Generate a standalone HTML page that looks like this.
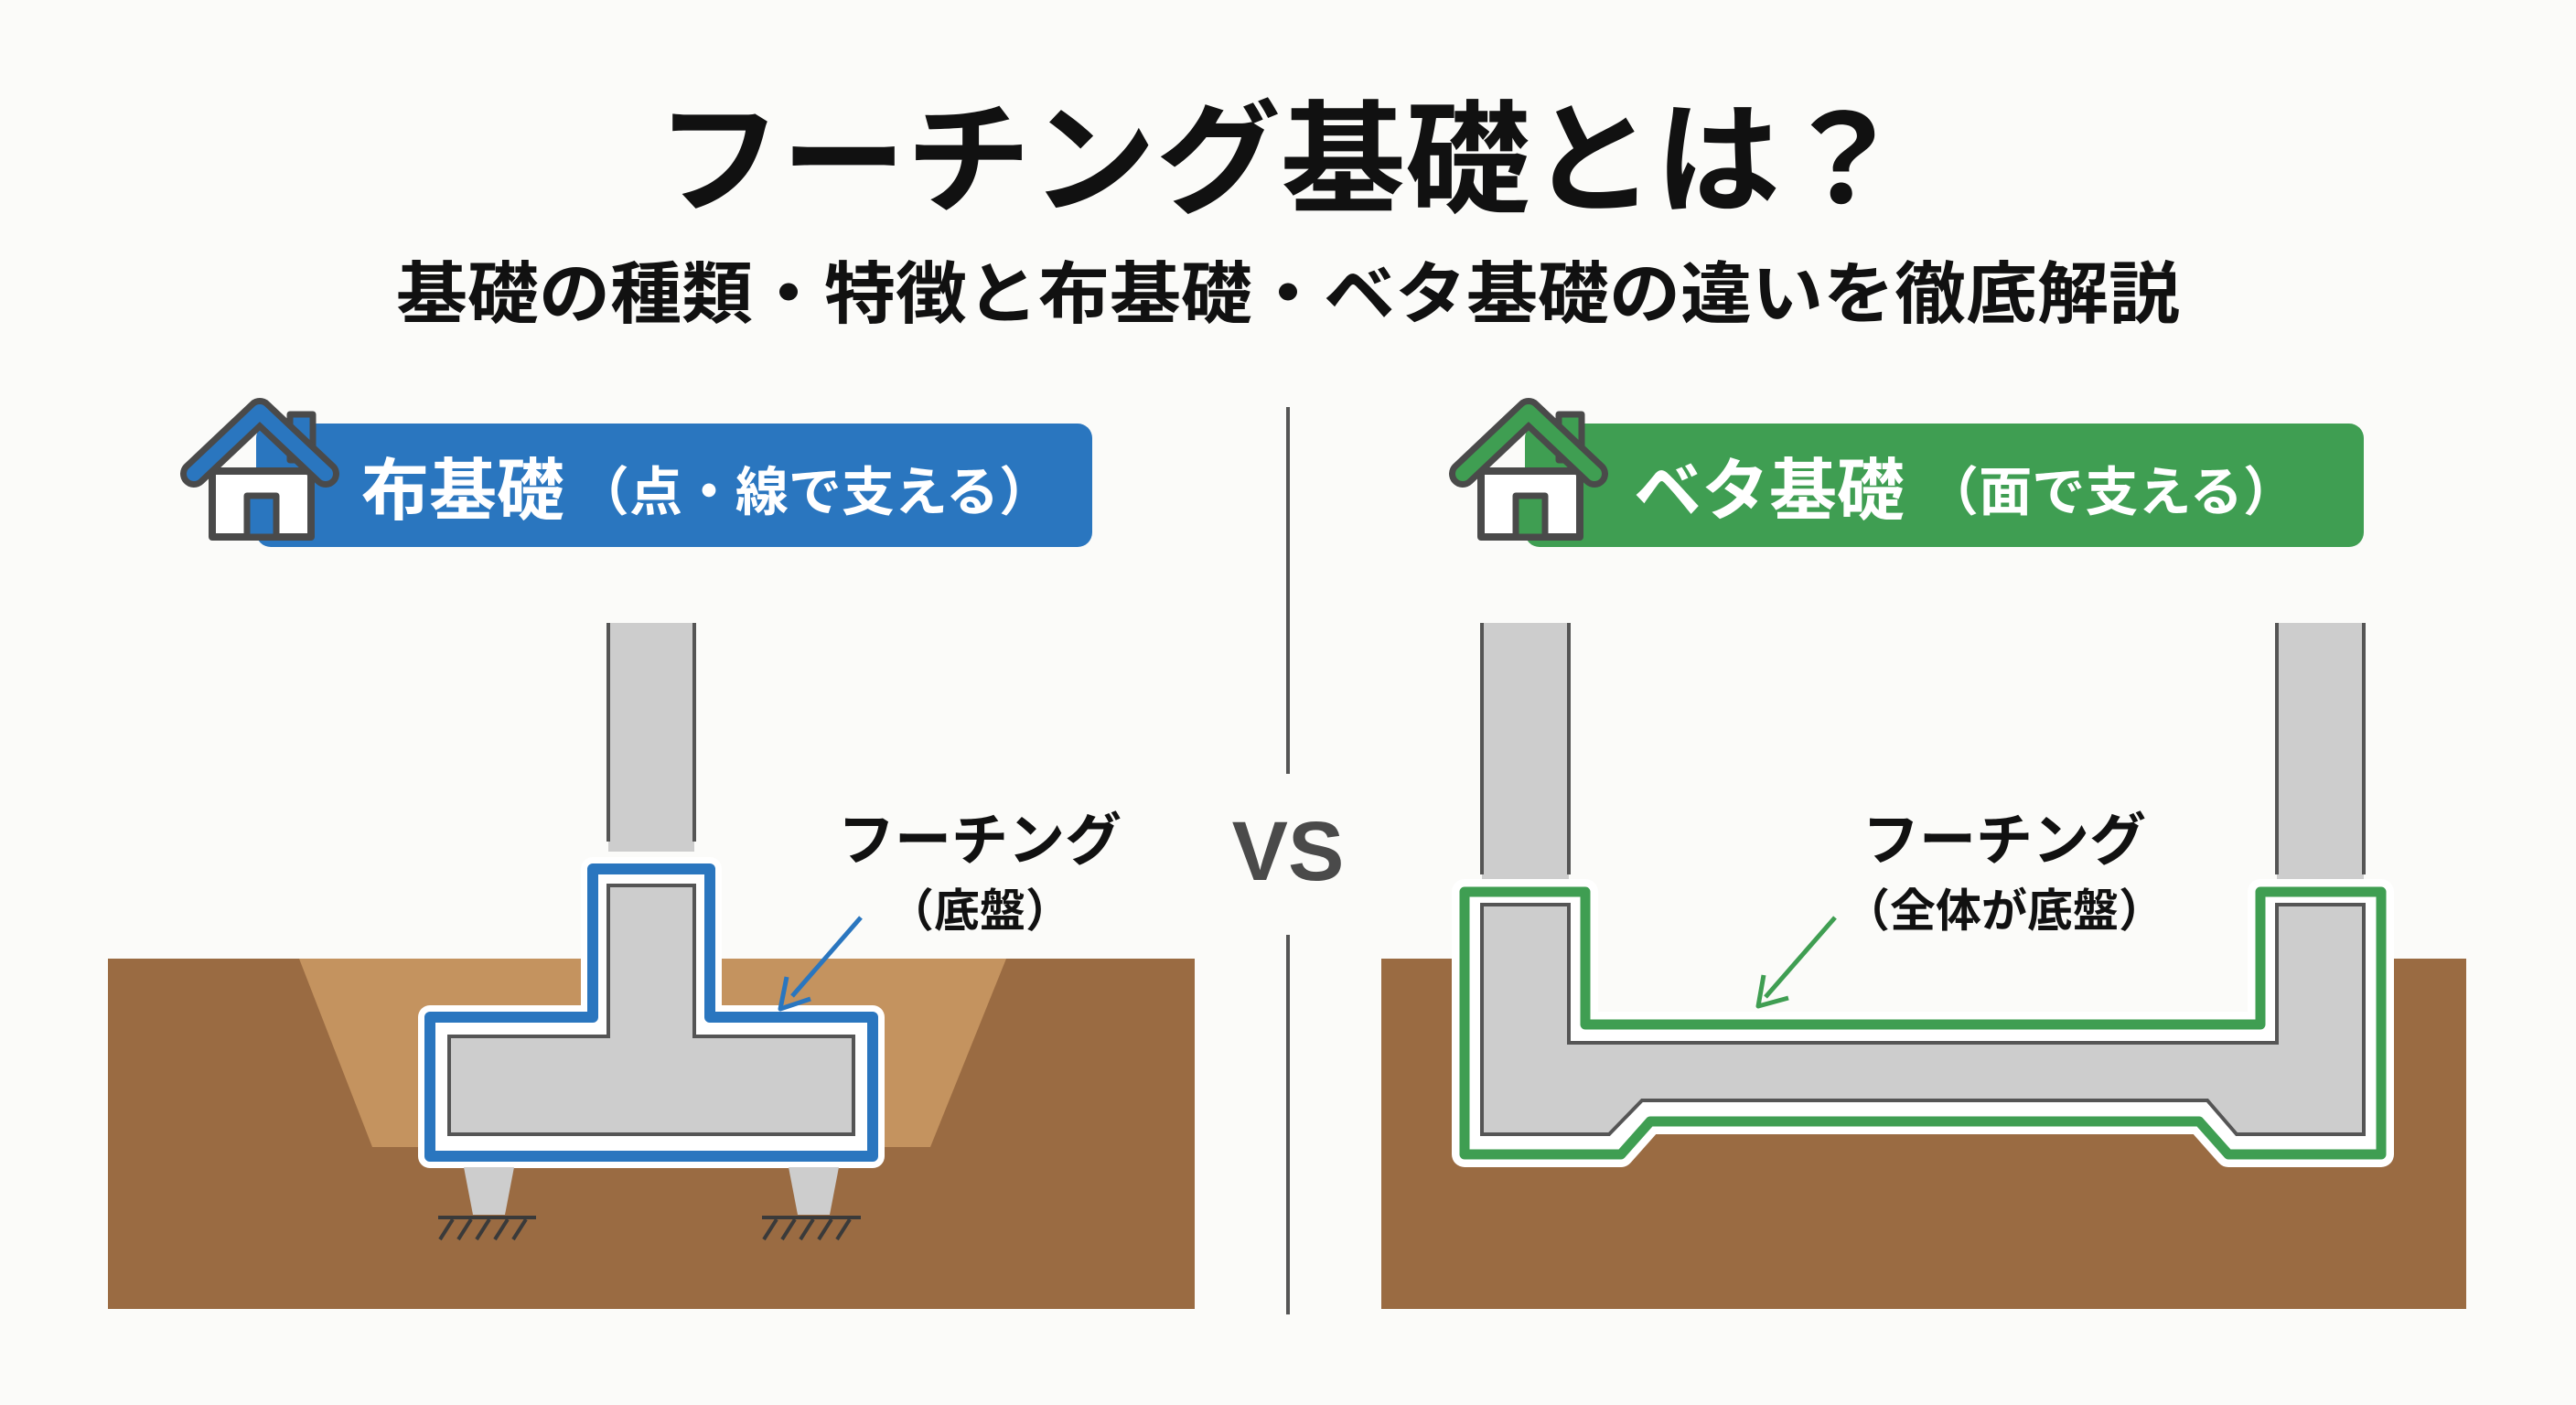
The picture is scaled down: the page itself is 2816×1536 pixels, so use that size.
<!DOCTYPE html>
<html><head><meta charset="utf-8"><style>
html,body{margin:0;padding:0;background:#fbfbf9;}
svg{display:block;}
text{font-family:"Liberation Sans","Noto Sans CJK JP",sans-serif;font-weight:700;}
</style></head><body>
<svg width="2816" height="1536" viewBox="0 0 2816 1536" xmlns="http://www.w3.org/2000/svg">
<rect width="2816" height="1536" fill="#fbfbf9"/>
<text x="1400" y="222" font-size="134" text-anchor="middle" textLength="1365" lengthAdjust="spacingAndGlyphs" fill="#111">フーチング基礎とは？</text>
<text x="1408" y="347" font-size="74" text-anchor="middle" textLength="1950" lengthAdjust="spacingAndGlyphs" fill="#111">基礎の種類・特徴と布基礎・ベタ基礎の違いを徹底解説</text>

<line x1="1408" y1="445" x2="1408" y2="846" stroke="#555" stroke-width="4"/>
<line x1="1408" y1="1022" x2="1408" y2="1437" stroke="#555" stroke-width="4"/>
<text x="1408" y="962" font-size="92" text-anchor="middle" fill="#4a4a4a">VS</text>

<rect x="280" y="463" width="914" height="135" rx="16" fill="#2a76bf"/>
<text x="395" y="562" font-size="74" fill="#fff">布基礎</text>
<text x="630" y="558" font-size="58" fill="#fff" textLength="520" lengthAdjust="spacingAndGlyphs">（点・線で支える）</text>
<g stroke-linejoin="round" stroke-linecap="round">
<rect x="232" y="515" width="108" height="72" fill="#fff" stroke="#4a4a4a" stroke-width="8"/>
<rect x="270" y="542" width="32" height="45" fill="#2a76bf" stroke="#4a4a4a" stroke-width="7"/>
<rect x="317" y="453" width="25" height="50" fill="#2a76bf" stroke="#4a4a4a" stroke-width="7"/>
<polyline points="212,518 284,450 356,518" fill="none" stroke="#4a4a4a" stroke-width="30"/>
<polyline points="212,518 284,450 356,518" fill="none" stroke="#2a76bf" stroke-width="16"/>
</g>

<rect x="1667" y="463" width="917" height="135" rx="16" fill="#3f9e52"/>
<text x="1786" y="562" font-size="74" fill="#fff">ベタ基礎</text>
<text x="2105" y="558" font-size="58" fill="#fff" textLength="405" lengthAdjust="spacingAndGlyphs">（面で支える）</text>
<g stroke-linejoin="round" stroke-linecap="round">
<rect x="1619" y="515" width="108" height="72" fill="#fff" stroke="#4a4a4a" stroke-width="8"/>
<rect x="1657" y="542" width="32" height="45" fill="#3f9e52" stroke="#4a4a4a" stroke-width="7"/>
<rect x="1704" y="453" width="25" height="50" fill="#3f9e52" stroke="#4a4a4a" stroke-width="7"/>
<polyline points="1599,518 1671,450 1743,518" fill="none" stroke="#4a4a4a" stroke-width="30"/>
<polyline points="1599,518 1671,450 1743,518" fill="none" stroke="#3f9e52" stroke-width="16"/>
</g>

<rect x="118" y="1048" width="1188" height="383" fill="#9a6b42"/>
<polygon points="327,1048 1100,1048 1017,1254 407,1254" fill="#c4935f"/>
<rect x="665" y="681" width="94" height="250" fill="#cdcdcd"/>
<line x1="665" y1="681" x2="665" y2="920" stroke="#555" stroke-width="4"/>
<line x1="759" y1="681" x2="759" y2="920" stroke="#555" stroke-width="4"/>
<path d="M648,950 L776,950 L776,1112 L954,1112 L954,1264 L470,1264 L470,1112 L648,1112 Z" fill="#fff" stroke="#fff" stroke-width="26" stroke-linejoin="round"/>
<path d="M648,950 L776,950 L776,1112 L954,1112 L954,1264 L470,1264 L470,1112 L648,1112 Z" fill="#fff" stroke="#2a76bf" stroke-width="12" stroke-linejoin="round"/>
<path d="M665,968 L759,968 L759,1133 L933,1133 L933,1240 L491,1240 L491,1133 L665,1133 Z" fill="#cdcdcd" stroke="#555" stroke-width="4"/>
<polygon points="507,1276 562,1276 552,1328 517,1328" fill="#cdcdcd"/>
<polygon points="862,1276 917,1276 907,1328 872,1328" fill="#cdcdcd"/>
<g stroke="#3a3a3a" stroke-width="4">
<line x1="479" y1="1331" x2="586" y2="1331"/>
<line x1="833" y1="1331" x2="941" y2="1331"/>
<path d="M495,1333 l-14,22 M515,1333 l-14,22 M535,1333 l-14,22 M555,1333 l-14,22 M575,1333 l-14,22" fill="none"/>
<path d="M849,1333 l-14,22 M869,1333 l-14,22 M889,1333 l-14,22 M909,1333 l-14,22 M929,1333 l-14,22" fill="none"/>
</g>
<text x="1071" y="940" font-size="62" text-anchor="middle" fill="#111">フーチング</text>
<text x="1071" y="1013" font-size="50" text-anchor="middle" fill="#111">（底盤）</text>
<line x1="941" y1="1003" x2="866" y2="1089" stroke="#2a76bf" stroke-width="5"/>
<polyline points="860,1068 853,1103 886,1092" fill="none" stroke="#2a76bf" stroke-width="5" stroke-linejoin="round"/>

<rect x="1510" y="1048" width="1186" height="383" fill="#9a6b42"/>
<rect x="1720" y="1040" width="764" height="80" fill="#fbfbf9"/>
<rect x="1620" y="681" width="95" height="290" fill="#cdcdcd"/>
<rect x="2489" y="681" width="95" height="290" fill="#cdcdcd"/>
<g stroke="#555" stroke-width="4">
<line x1="1620" y1="681" x2="1620" y2="956"/><line x1="1715" y1="681" x2="1715" y2="956"/>
<line x1="2489" y1="681" x2="2489" y2="956"/><line x1="2584" y1="681" x2="2584" y2="956"/>
</g>
<path d="M1601,975 L1733,975 L1733,1120 L2471,1120 L2471,975 L2603,975 L2603,1262 L2436,1262 L2404,1226 L1804,1226 L1772,1262 L1601,1262 Z" fill="#fff" stroke="#fff" stroke-width="28" stroke-linejoin="round"/>
<path d="M1601,975 L1733,975 L1733,1120 L2471,1120 L2471,975 L2603,975 L2603,1262 L2436,1262 L2404,1226 L1804,1226 L1772,1262 L1601,1262 Z" fill="#fff" stroke="#3f9e52" stroke-width="11" stroke-linejoin="round"/>
<path d="M1620,989 L1715,989 L1715,1140 L2489,1140 L2489,989 L2584,989 L2584,1240 L2445,1240 L2413,1203 L1795,1203 L1759,1240 L1620,1240 Z" fill="#cdcdcd" stroke="#555" stroke-width="4"/>
<text x="2191" y="940" font-size="62" text-anchor="middle" fill="#111">フーチング</text>
<text x="2191" y="1013" font-size="50" text-anchor="middle" fill="#111">（全体が底盤）</text>
<line x1="2006" y1="1003" x2="1930" y2="1090" stroke="#3f9e52" stroke-width="5"/>
<polyline points="1928,1066 1922,1100 1955,1091" fill="none" stroke="#3f9e52" stroke-width="5" stroke-linejoin="round"/>
</svg>
</body></html>
